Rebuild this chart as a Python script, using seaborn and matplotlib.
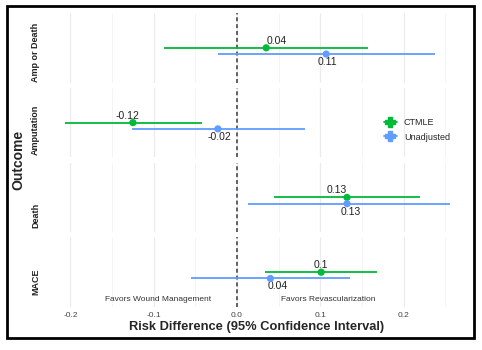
import numpy as np
import pandas as pd
import seaborn as sns
import matplotlib.pyplot as plt
from matplotlib.lines import Line2D
from matplotlib.patches import Rectangle

outcomes = ["Amp or Death", "Amputation", "Death", "MACE"]
methods = ["CTMLE", "Unadjusted"]
ctmle_est = [0.035, -0.125, 0.132, 0.101]
ctmle_lo = [-0.088, -0.207, 0.044, 0.034]
ctmle_hi = [0.157, -0.042, 0.220, 0.168]
ctmle_lab = ["0.04", "-0.12", "0.13", "0.1"]
unadj_est = [0.107, -0.023, 0.132, 0.040]
unadj_lo = [-0.023, -0.126, 0.013, -0.055]
unadj_hi = [0.237, 0.082, 0.255, 0.135]
unadj_lab = ["0.11", "-0.02", "0.13", "0.04"]
x_ticks = [-0.2, -0.1, 0.0, 0.1, 0.2]

# label nudges (repel-like placement in the original)
ctmle_nudge = [0.013, -0.006, -0.012, 0.0]
unadj_nudge = [0.002, 0.002, 0.005, 0.009]
strip_shift = [0.06, 0.1, 0.26, 0.13]

rows = []
for i, o in enumerate(outcomes):
    rows.append(dict(outcome=o, method="CTMLE", est=ctmle_est[i], lo=ctmle_lo[i],
                     hi=ctmle_hi[i], lab=ctmle_lab[i], ypos=0.0, nud=ctmle_nudge[i]))
    rows.append(dict(outcome=o, method="Unadjusted", est=unadj_est[i], lo=unadj_lo[i],
                     hi=unadj_hi[i], lab=unadj_lab[i], ypos=-0.09, nud=unadj_nudge[i]))
df = pd.DataFrame(rows)

sns.set_theme(style="white")
plt.rcParams['font.family'] = ['Liberation Sans', 'DejaVu Sans']
palette = {"CTMLE": "#00BA38", "Unadjusted": "#619CFF"}

fig, axes = plt.subplots(4, 1, figsize=(4.82, 3.5), dpi=100, sharex=True)
fig.subplots_adjust(left=50/482, right=452/482, top=1-13/350, bottom=1-307/350, hspace=0.075)

for k, (ax, o) in enumerate(zip(axes, outcomes)):
    sub = df[df.outcome == o]
    for _, r in sub.iterrows():
        ax.hlines(r.ypos, r.lo, r.hi, color=palette[r.method], lw=1.3, zorder=3)
    sns.scatterplot(data=sub, x="est", y="ypos", hue="method", palette=palette,
                    s=27, edgecolor="none", legend=False, ax=ax, zorder=4)
    for _, r in sub.iterrows():
        if r.method == "CTMLE":
            ax.text(r.est + r.nud, r.ypos + 0.1, r.lab, ha="center", va="center",
                    fontsize=7.5, color="#222222")
        else:
            ax.text(r.est + r.nud, r.ypos - 0.115, r.lab, ha="center", va="center",
                    fontsize=7.5, color="#222222")
    ax.axvline(0, ls=(0, (2.2, 1.6)), color="#555555", lw=1.3, zorder=2)
    ax.set_xlim(-0.2245, 0.258)
    ax.set_ylim(-0.5, 0.5)
    ax.set_xticks(x_ticks)
    ax.set_xticks(np.arange(-0.15, 0.26, 0.1), minor=True)
    ax.grid(True, axis="x", which="major", color="#EBEBEB", lw=0.9)
    ax.grid(True, axis="x", which="minor", color="#F3F3F3", lw=0.6)
    ax.grid(False, axis="y")
    ax.set_yticks([])
    ax.set_xlabel("")
    ax.set_ylabel(o, fontsize=6.5, fontweight="bold", color="#222222")
    ax.yaxis.set_label_coords(-0.025, 0.5 - strip_shift[k])
    for s in ax.spines.values():
        s.set_visible(False)
    ax.tick_params(axis="x", length=0, labelsize=6, colors="#444444", pad=3.5)

axes[-1].set_xticklabels([f"{t:.1f}" for t in x_ticks])
axes[-1].set_xlabel("Risk Difference (95% Confidence Interval)", fontsize=9.3,
                    fontweight="bold")
axes[-1].xaxis.set_label_coords(0.513, -0.2)
axes[-1].text(-0.095, -0.39, "Favors Wound Management", ha="center", va="center",
              fontsize=6, color="#333333")
axes[-1].text(0.109, -0.39, "Favors Revascularization", ha="center", va="center",
              fontsize=6, color="#333333")

fig.text(18/482, 1-160/350, "Outcome", rotation=90, ha="center", va="center",
         fontsize=10, fontweight="bold")

handles = [Line2D([], [], color=palette[m], marker="P", markersize=6.5, lw=1.3) for m in methods]
fig.legend(handles, methods, loc="upper left", bbox_to_anchor=(376/482, 1-110/350),
           frameon=False, fontsize=6.5, handlelength=1.4, labelspacing=0.6)

fig.patches.append(Rectangle((7/482, 1-338/350), 467/482, 332/350, fill=False, lw=2,
                             edgecolor="black", transform=fig.transFigure, figure=fig))

fig.savefig("out.png", dpi=100)
